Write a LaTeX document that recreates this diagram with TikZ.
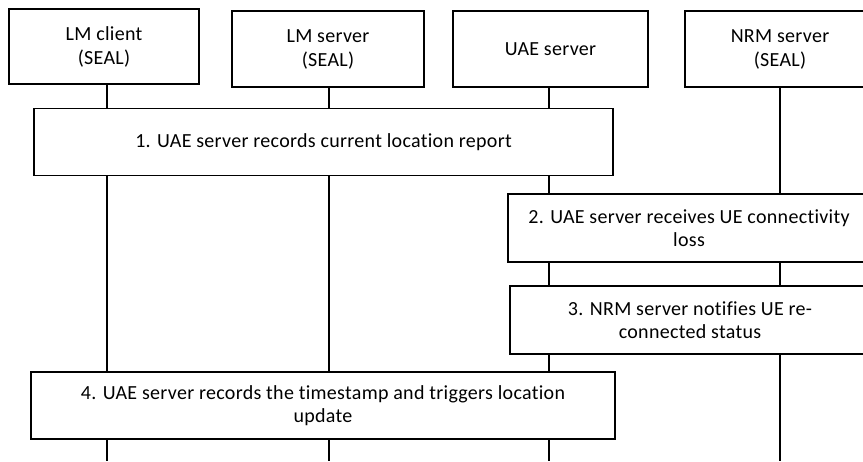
\documentclass[tikz,border=0pt]{standalone}
\usepackage{fontspec}
\setmainfont{Carlito}[LetterSpace=1.5,Ligatures=NoCommon]
\usepackage{tikz}

\tikzset{
  hdr/.style={draw, line width=0.8pt, fill=white, inner sep=0pt, align=center,
    font=\fontsize{15}{18}\selectfont},
  stepbox/.style={draw, line width=0.8pt, fill=white, inner sep=0pt, align=center,
    font=\fontsize{15}{17.5}\selectfont},
  life/.style={line width=0.8pt}
}

\begin{document}
\begin{tikzpicture}[x=0.75pt,y=-0.75pt]
    \useasboundingbox (0,0) rectangle (863,461);
    \node[hdr, minimum width=142.5pt, minimum height=56.25pt] (lmc) at (104,46.5) {LM client\\(SEAL)};
    \node[hdr, minimum width=144pt, minimum height=57pt] (lms) at (328,49) {LM server\\(SEAL)};
    \node[hdr, minimum width=146.25pt, minimum height=57pt] (uae) at (550.5,49) {UAE server};
    \node[hdr, minimum width=142.5pt, minimum height=57pt] (nrm) at (780,49) {NRM server\\(SEAL)};
    \coordinate (lmcend) at (107,461);
    \coordinate (lmsend) at (329,461);
    \coordinate (uaeend) at (549,461);
    \coordinate (nrmend) at (780,461);
    \draw[life] (lmcend |- lmc.south) -- (lmcend);
    \draw[life] (lmsend |- lms.south) -- (lmsend);
    \draw[life] (uaeend |- uae.south) -- (uaeend);
    \draw[life] (nrmend |- nrm.south) -- (nrmend);
    \node[stepbox, minimum width=434.25pt, minimum height=50.25pt] (s1) at (323.5,142) {1. UAE server records current location report};
    \node[stepbox, minimum width=271.5pt, minimum height=51pt] (s2) at (689,228) {2. UAE server receives UE connectivity\\loss};
    \node[stepbox, minimum width=270pt, minimum height=51pt] (s3) at (690,320) {3. NRM server notifies UE re-\\connected status};
    \node[stepbox, minimum width=438pt, minimum height=50.25pt] (s4) at (323,405.5) {4. UAE server records the timestamp and triggers location\\update};
\end{tikzpicture}
\end{document}
